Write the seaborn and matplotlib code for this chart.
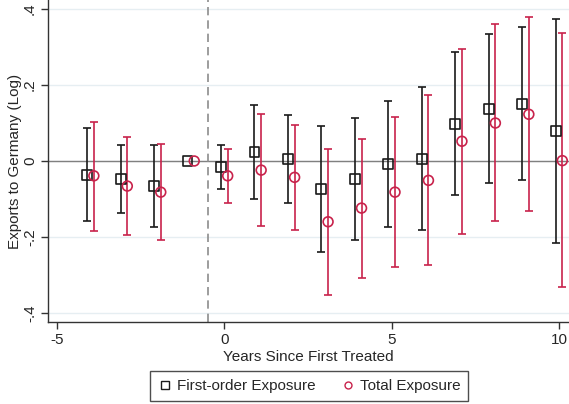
import numpy as np
import pandas as pd
import seaborn as sns
import matplotlib
matplotlib.use("Agg")
import matplotlib.pyplot as plt
from matplotlib.lines import Line2D

# Event-study estimates by years since first treatment
years = [-4, -3, -2, -1, 0, 1, 2, 3, 4, 5, 6, 7, 8, 9, 10]

first_est = [-0.036, -0.047, -0.065, 0.0, -0.015, 0.023, 0.005, -0.073, -0.048, -0.008, 0.005, 0.097, 0.138, 0.151, 0.080]
first_lo = [-0.158, -0.138, -0.175, 0.0, -0.074, -0.101, -0.111, -0.239, -0.207, -0.174, -0.181, -0.089, -0.058, -0.049, -0.216]
first_hi = [0.088, 0.042, 0.042, 0.0, 0.041, 0.147, 0.122, 0.093, 0.112, 0.159, 0.194, 0.286, 0.335, 0.353, 0.374]

total_est = [-0.039, -0.066, -0.082, 0.0, -0.039, -0.024, -0.043, -0.160, -0.124, -0.082, -0.051, 0.052, 0.100, 0.123, 0.001]
total_lo = [-0.184, -0.196, -0.207, 0.0, -0.110, -0.170, -0.181, -0.352, -0.307, -0.279, -0.275, -0.193, -0.159, -0.132, -0.332]
total_hi = [0.103, 0.064, 0.045, 0.0, 0.031, 0.123, 0.095, 0.032, 0.059, 0.117, 0.174, 0.296, 0.360, 0.379, 0.337]

x_ticks = [-5, 0, 5, 10]
y_ticks = [-0.4, -0.2, 0.0, 0.2, 0.4]
y_ticklabels = ["-.4", "-.2", "0", ".2", ".4"]

sns.set_theme(style="white")
plt.rcParams["font.family"] = ["Liberation Sans", "DejaVu Sans"]

BLACK = "#1a1a1a"
RED = "#c8224b"
OFFSET = 0.1

df = pd.concat([
    pd.DataFrame({"year": np.array(years) - OFFSET, "est": first_est,
                  "lo": first_lo, "hi": first_hi, "series": "First-order Exposure"}),
    pd.DataFrame({"year": np.array(years) + OFFSET, "est": total_est,
                  "lo": total_lo, "hi": total_hi, "series": "Total Exposure"}),
], ignore_index=True)

fig = plt.figure(figsize=(5.69, 4.04), dpi=100)
ax = fig.add_axes([48 / 569, 1 - 322 / 404, 1 - 48 / 569, 322 / 404])

# horizontal grid, zero line and treatment-onset marker
for yv in y_ticks:
    ax.axhline(yv, color="#e6eef2", lw=1.0, zorder=0)
ax.axhline(0, color="#808080", lw=1.0, zorder=1)
ax.axvline(-0.5, color="#8c8c8c", lw=1.2, ls=(0, (5, 3)), zorder=1)

colors = {"First-order Exposure": BLACK, "Total Exposure": RED}
for name, sub in df.groupby("series", sort=False):
    s = sub[(sub["hi"] - sub["lo"]) > 0]
    ax.errorbar(s["year"], s["est"],
                yerr=[s["est"] - s["lo"], s["hi"] - s["est"]],
                fmt="none", ecolor=colors[name], elinewidth=1.2, capsize=2.8,
                capthick=1.2, zorder=2)

sns.scatterplot(data=df, x="year", y="est", hue="series", style="series",
                palette=colors,
                markers={"First-order Exposure": "s", "Total Exposure": "o"},
                s=50, linewidth=1.2, legend=False, ax=ax, zorder=3)
# hollow markers with coloured edges
pts = ax.collections[-1]
pts.set_edgecolors([colors[s] for s in df["series"]])
pts.set_facecolors("none")

ax.set_xlim(-5.27, 10.3)
ax.set_ylim(-0.424, 0.424)
ax.set_xticks(x_ticks)
ax.set_xticklabels([str(t) for t in x_ticks], fontsize=11)
ax.set_yticks(y_ticks)
ax.set_yticklabels(y_ticklabels, fontsize=11, rotation=90, va="center")
ax.tick_params(axis="both", direction="out", length=5, width=1.0, color="#333333",
               left=True, bottom=True, pad=3)
ax.set_xlabel("Years Since First Treated", fontsize=11, labelpad=2)
ax.set_ylabel("Exports to Germany (Log)", fontsize=11, labelpad=0.5)

for side in ["top", "right"]:
    ax.spines[side].set_visible(False)
for side in ["left", "bottom"]:
    ax.spines[side].set_color("#333333")
    ax.spines[side].set_linewidth(1.0)

handles = [
    Line2D([], [], ls="none", marker="s", markersize=6, markerfacecolor="none",
           markeredgecolor=BLACK, markeredgewidth=1.0, label="First-order Exposure"),
    Line2D([], [], ls="none", marker="o", markersize=5, markerfacecolor="none",
           markeredgecolor=RED, markeredgewidth=1.0, label="Total Exposure"),
]
leg = fig.legend(handles=handles, loc="center", bbox_to_anchor=(309 / 569, 1 - 386 / 404),
                 ncol=2, frameon=True, fancybox=False, fontsize=11,
                 handletextpad=0.3, columnspacing=1.6, borderpad=0.5, handlelength=1.0)
leg.get_frame().set_edgecolor("#222222")
leg.get_frame().set_linewidth(1.0)

fig.savefig("out.png", dpi=100)
